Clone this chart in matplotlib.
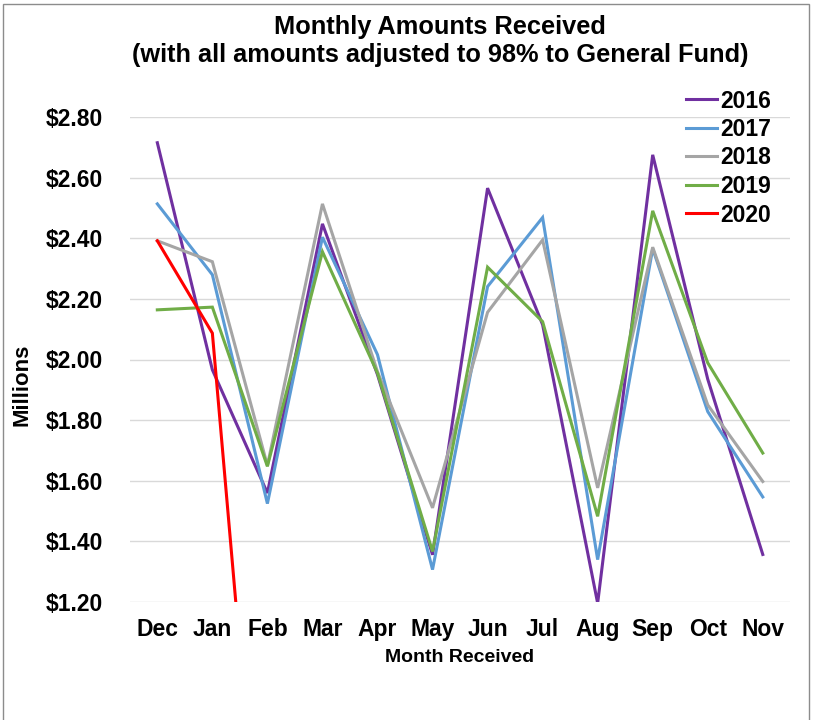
import matplotlib
matplotlib.use("Agg")
import matplotlib.pyplot as plt
from matplotlib.patches import Rectangle
from matplotlib.ticker import FuncFormatter, MultipleLocator

plt.rcParams['font.family'] = ['Liberation Sans', 'DejaVu Sans']

months = ["Dec", "Jan", "Feb", "Mar", "Apr", "May", "Jun", "Jul", "Aug", "Sep", "Oct", "Nov"]
y2016 = [2.716, 1.966, 1.559, 2.448, 1.950, 1.355, 2.566, 2.115, 1.195, 2.676, 1.935, 1.356]
y2017 = [2.514, 2.280, 1.524, 2.404, 2.016, 1.306, 2.241, 2.469, 1.339, 2.366, 1.828, 1.546]
y2018 = [2.392, 2.323, 1.650, 2.514, 1.960, 1.510, 2.156, 2.395, 1.576, 2.371, 1.850, 1.597]
y2019 = [2.164, 2.173, 1.647, 2.356, 1.955, 1.366, 2.305, 2.125, 1.482, 2.491, 1.989, 1.691]
y2020 = [2.392, 2.087, 0.0]
series_names = ["2016", "2017", "2018", "2019", "2020"]
colors = ["#7030A0", "#5B9BD5", "#A5A5A5", "#70AD47", "#FF0000"]

W, H = 813, 720
fig = plt.figure(figsize=(W / 100, H / 100), dpi=100)
fig.patch.set_facecolor("white")

# chart border
fig.add_artist(Rectangle((3 / W, -0.05), (809 - 3) / W, 1.05 - 4 / H,
                         transform=fig.transFigure, fill=False,
                         edgecolor="#8C8C8C", linewidth=1.0))

ax = fig.add_axes([129.8 / W, 1 - 601.7 / H, (790.3 - 129.8) / W, (601.7 - 117.3) / H])
x = list(range(len(months)))
for name, data, c in zip(series_names, [y2016, y2017, y2018, y2019, y2020], colors):
    ax.plot(x[:len(data)], data, color=c, linewidth=2.2, label=name,
            solid_joinstyle="miter", zorder=3)

ax.set_xlim(-0.5, 11.5)
ax.set_ylim(1.20, 2.80)
ax.yaxis.set_major_locator(MultipleLocator(0.2))
ax.yaxis.set_major_formatter(FuncFormatter(lambda v, p: f"${v:.2f}"))
ax.set_xticks(x)
ax.set_xticklabels(months)
ax.grid(axis="y", color="#D9D9D9", linewidth=1.0, zorder=0)
for s in ax.spines.values():
    s.set_visible(False)
ax.tick_params(axis="both", length=0, labelsize=16.5)
ax.tick_params(axis="y", pad=19.5)
ax.tick_params(axis="x", pad=11.5)
for lab in ax.get_xticklabels() + ax.get_yticklabels():
    lab.set_fontweight("bold")

fig.text(22 / W, 1 - 385 / H, "Millions", rotation=90, ha="center", va="center",
         fontsize=16, fontweight="bold")
fig.text(460 / W, 1 - 657 / H, "Month Received", ha="center", va="center",
         fontsize=14, fontweight="bold")
fig.text(440 / W, 1 - 41 / H,
         "Monthly Amounts Received\n(with all amounts adjusted to 98% to General Fund)",
         ha="center", va="center", fontsize=18.3, fontweight="bold", linespacing=1.25)

leg = ax.legend(loc="upper left", bbox_to_anchor=(686 / W, 1 - 89.5 / H),
                bbox_transform=fig.transFigure, frameon=False,
                prop={"weight": "bold", "size": 16.5}, handlelength=1.35,
                handletextpad=0.15, labelspacing=0.24, borderaxespad=0,
                borderpad=0)

fig.savefig("out.png", dpi=100, facecolor="white")
